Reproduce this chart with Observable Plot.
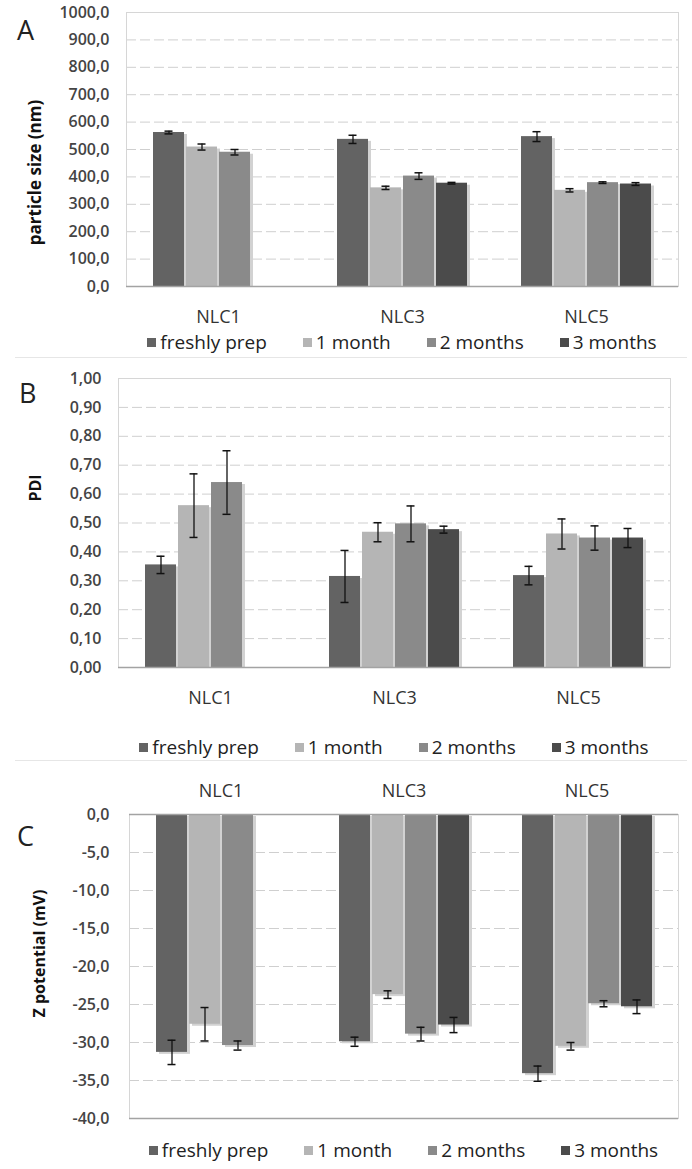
<!DOCTYPE html>
<html><head><meta charset="utf-8">
<script src="https://cdn.jsdelivr.net/npm/d3@7"></script>
<script src="https://cdn.jsdelivr.net/npm/@observablehq/plot@0.6"></script>
<style>
body{margin:0;background:#fff;font-family:"Open Sans",sans-serif;}
#root{position:relative;width:692px;height:1169px;overflow:hidden;background:#fff;}
.abs{position:absolute;}
.letter{font-size:27px;line-height:27px;color:#222;}
.legend{display:flex;justify-content:center;align-items:center;gap:36px;font-size:19px;line-height:26px;height:26px;color:#222;white-space:nowrap;}
.sw{display:inline-block;width:9px;height:9px;margin-right:4px;vertical-align:middle;position:relative;top:-1px;}
.sep{position:absolute;left:15px;width:672px;height:1px;background:#e6e6e6;}
</style></head>
<body><div id="root"></div>
<script>
const categories = ["NLC1", "NLC3", "NLC5"];
const series = ["freshly prep", "1 month", "2 months", "3 months"];
const colors = ["#636363", "#b5b5b5", "#8a8a8a", "#4b4b4b"];

// Panel A: particle size (nm) — rows: categories, cols: series
const sizeValues = [[562, 509, 490, null], [537, 360, 403, 377], [547, 351, 379, 374]];
const sizeErrors = [[5, 11, 10, null], [15, 6, 12, 3], [18, 6, 3, 5]];
const sizeTicks = [0, 100, 200, 300, 400, 500, 600, 700, 800, 900, 1000];

// Panel B: PDI
const pdiValues = [[0.355, 0.56, 0.64, null], [0.315, 0.468, 0.497, 0.477], [0.318, 0.462, 0.448, 0.448]];
const pdiErrors = [[0.03, 0.11, 0.11, null], [0.09, 0.033, 0.062, 0.012], [0.032, 0.052, 0.042, 0.033]];
const pdiTicks = [0, 0.1, 0.2, 0.3, 0.4, 0.5, 0.6, 0.7, 0.8, 0.9, 1.0];

// Panel C: Z potential (mV)
const zetaValues = [[-31.3, -27.6, -30.4, null], [-29.9, -23.7, -28.9, -27.7], [-34.1, -30.5, -24.9, -25.3]];
const zetaErrors = [[1.6, 2.2, 0.6, null], [0.6, 0.5, 0.9, 1.0], [1.0, 0.5, 0.4, 0.9]];
const zetaTicks = [-40, -35, -30, -25, -20, -15, -10, -5, 0];

const root = document.getElementById("root");

function panel(o) {
  const rows = [];
  categories.forEach((c, i) => series.forEach((s, j) => {
    const v = o.values[i][j];
    if (v == null) return;
    rows.push({cat: c, ser: s, v, lo: v - o.errors[i][j], hi: v + o.errors[i][j]});
  }));
  const fmt = d => d.toFixed(o.decimals).replace(".", ",");
  const svg = Plot.plot({
    width: 692,
    height: o.height,
    marginTop: o.mt, marginBottom: o.mb, marginLeft: o.ml, marginRight: o.mr,
    style: {fontFamily: "Open Sans", background: "transparent", overflow: "visible"},
    fx: {domain: categories, padding: 0, label: null},
    x: {domain: series, paddingInner: 0.07, paddingOuter: 0.8, axis: null},
    y: {domain: o.domain, label: null},
    color: {domain: series, range: colors},
    marks: [
      Plot.gridY(o.ticks, {stroke: "#cfcfcf", strokeOpacity: 1, strokeDasharray: "10,4"}),
      Plot.frame({facet: "super", stroke: "#d6d6d6"}),
      Plot.barY(rows, {fx: "cat", x: "ser", y: "v", fill: "#d2d2d2", dx: 3, dy: 2, clip: true}),
      Plot.barY(rows, {fx: "cat", x: "ser", y: "v", fill: "ser"}),
      Plot.ruleY(o.baselines, {stroke: "#a3a3a3", strokeWidth: 1.5}),
      Plot.ruleX(rows, {fx: "cat", x: "ser", y1: "lo", y2: "hi", stroke: "#111", strokeWidth: 1.3}),
      Plot.tickY(rows, {fx: "cat", x: "ser", y: "lo", stroke: "#111", strokeWidth: 1.5, inset: 11.5}),
      Plot.tickY(rows, {fx: "cat", x: "ser", y: "hi", stroke: "#111", strokeWidth: 1.5, inset: 11.5}),
      Plot.axisY(o.ticks, {tickSize: 0, tickPadding: o.yPad, tickFormat: fmt, fontSize: 16, fontWeight: 600, fill: "#444", label: null}),
      Plot.axisFx({anchor: o.fxAnchor, tickSize: 0, tickPadding: o.fxPad, fontSize: 18, fill: "#333", label: null}),
      Plot.text([o.title], {facet: "super", frameAnchor: "left", textAnchor: "middle", rotate: -90, dx: o.tdx, dy: o.tdy, fontSize: o.tfs, fontWeight: 700, fill: "#111"})
    ]
  });
  svg.style.position = "absolute";
  svg.style.left = "0px";
  svg.style.top = o.top + "px";
  root.appendChild(svg);

  const lg = document.createElement("div");
  lg.className = "abs legend";
  lg.style.left = o.ml + "px";
  lg.style.width = (692 - o.ml - o.mr) + "px";
  lg.style.top = (o.legendY - 13) + "px";
  series.forEach((s, j) => {
    const it = document.createElement("span");
    const sw = document.createElement("span");
    sw.className = "sw";
    sw.style.background = colors[j];
    it.appendChild(sw);
    it.appendChild(document.createTextNode(s));
    lg.appendChild(it);
  });
  root.appendChild(lg);

  const L = document.createElement("div");
  L.className = "abs letter";
  L.textContent = o.letter;
  L.style.left = o.lx + "px";
  L.style.top = o.ly + "px";
  root.appendChild(L);
}

panel({values: sizeValues, errors: sizeErrors, domain: [0, 1000], ticks: sizeTicks, decimals: 1,
  top: 0, height: 330, mt: 12, mb: 44, ml: 125, mr: 13, yPad: 17, fxAnchor: "bottom", fxPad: 24,
  baselines: [0], title: "particle size (nm)", tfs: 17, tdx: -91, tdy: 23, legendY: 342, letter: "A", lx: 17, ly: 16});

panel({values: pdiValues, errors: pdiErrors, domain: [0, 1], ticks: pdiTicks, decimals: 2,
  top: 360, height: 360, mt: 18, mb: 53, ml: 118, mr: 22, yPad: 17, fxAnchor: "bottom", fxPad: 24,
  baselines: [0], title: "PDI", tfs: 16, tdx: -83, tdy: -35, legendY: 747, letter: "B", lx: 19, ly: 379});

panel({values: zetaValues, errors: zetaErrors, domain: [-40, 0], ticks: zetaTicks, decimals: 1,
  top: 770, height: 358, mt: 44, mb: 10, ml: 128, mr: 13, yPad: 20, fxAnchor: "top", fxPad: 18,
  baselines: [0, -40], title: "Z potential (mV)", tfs: 16, tdx: -90, tdy: -13, legendY: 1150, letter: "C", lx: 17, ly: 822});

[357, 760].forEach(y => {
  const s = document.createElement("div");
  s.className = "sep";
  s.style.top = y + "px";
  root.appendChild(s);
});
</script>
</body></html>
